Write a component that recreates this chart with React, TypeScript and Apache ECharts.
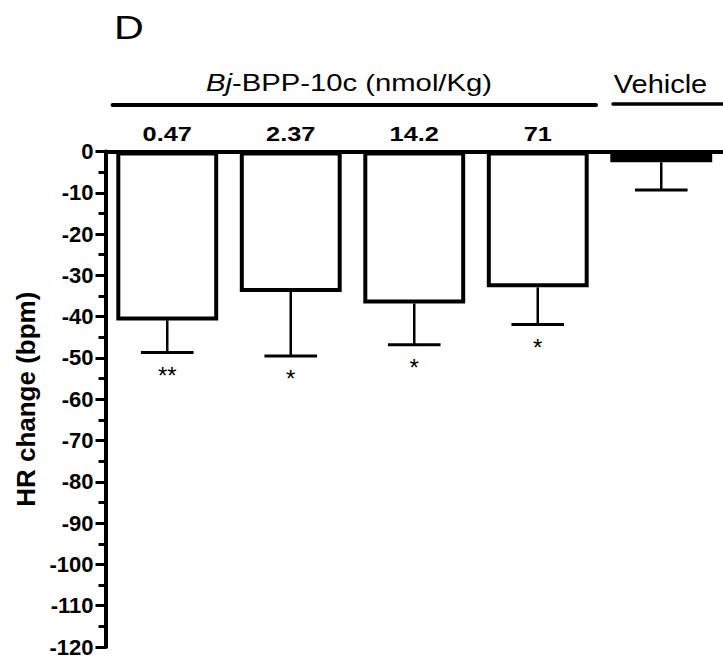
import React, { useEffect, useRef } from 'react';
import * as echarts from 'echarts';

// ---- data ----
const doseCategories = ['0.47', '2.37', '14.2', '71', 'Vehicle'];
const meanChange = [-40.9, -34.0, -36.8, -32.9, -2.6];
const semChange = [7.8, 15.5, 10.0, 9.0, 6.7];
const significance = ['**', '*', '*', '*', ''];
const barFill = ['#ffffff', '#ffffff', '#ffffff', '#ffffff', '#000000'];
const yMin = -120;
const yMax = 0;
const yStep = 10;
const panelLabel = 'D';
const groupLabel = 'Bj-BPP-10c (nmol/Kg)';
const vehicleLabel = 'Vehicle';
const yAxisTitle = 'HR change (bpm)';

const FONT = '"Liberation Sans", Arial, Helvetica, sans-serif';

export default function App() {
  const ref = useRef<HTMLDivElement>(null);

  useEffect(() => {
    if (!ref.current) return;
    const chart = echarts.init(ref.current, undefined, { renderer: 'svg' });

    const option: any = {
      animation: false,
      backgroundColor: '#ffffff',
      grid: { left: 105.5, top: 151.5, width: 624.3, height: 495.5, containLabel: false },
      xAxis: {
        type: 'category',
        data: doseCategories,
        position: 'top',
        axisLine: { show: true, lineStyle: { color: '#000', width: 4 } },
        axisTick: { show: false },
        axisLabel: { show: false },
        splitLine: { show: false },
      },
      yAxis: {
        type: 'value',
        min: yMin,
        max: yMax,
        interval: yStep,
        name: yAxisTitle,
        nameLocation: 'middle',
        nameGap: 66,
        nameTextStyle: { fontSize: 26, fontWeight: 'bold', color: '#000', fontFamily: FONT },
        axisLine: { show: true, lineStyle: { color: '#000', width: 4 } },
        axisTick: { show: true, length: 10, lineStyle: { color: '#000', width: 3 } },
        minorTick: { show: true, splitNumber: 2, length: 7, lineStyle: { color: '#000', width: 3 } },
        splitLine: { show: false },
        axisLabel: { color: '#000', fontWeight: 'bold', fontSize: 22, fontFamily: FONT, margin: 12 },
      },
      series: [
        {
          type: 'bar',
          data: meanChange.map((v, i) => ({ value: v, itemStyle: { color: barFill[i] } })),
          barWidth: '82.5%',
          itemStyle: { borderColor: '#000', borderWidth: 4 },
          z: 2,
        },
        {
          type: 'custom',
          clip: false,
          z: 3,
          encode: { x: 0, y: [1, 2] },
          data: meanChange.map((m, i) => [i, m, m - semChange[i]]),
          renderItem: (params: any, api: any) => {
            const idx = params.dataIndex;
            const i = api.value(0);
            const top = api.coord([i, api.value(1)]);
            const bot = api.coord([i, api.value(2)]);
            const zero = api.coord([i, 0]);
            const capHalf = api.size([1, 0])[0] * 0.213;
            const children: any[] = [
              {
                type: 'line',
                shape: { x1: top[0], y1: top[1], x2: bot[0], y2: bot[1] },
                style: { stroke: '#000', lineWidth: 2.5 },
              },
              {
                type: 'line',
                shape: { x1: bot[0] - capHalf, y1: bot[1], x2: bot[0] + capHalf, y2: bot[1] },
                style: { stroke: '#000', lineWidth: 3 },
              },
            ];
            if (significance[idx]) {
              children.push({
                type: 'text',
                x: bot[0],
                y: bot[1] + 22.7,
                style: {
                  text: significance[idx],
                  font: `24px ${FONT}`,
                  fill: '#000',
                  textAlign: 'center',
                  align: 'center',
                  textVerticalAlign: 'middle',
                  verticalAlign: 'middle',
                },
              });
            }
            if (doseCategories[idx] !== vehicleLabel) {
              children.push({
                type: 'text',
                x: zero[0],
                y: zero[1] - 16.6,
                scaleX: 1.3,
                style: {
                  text: doseCategories[idx],
                  font: `bold 19.5px ${FONT}`,
                  fill: '#000',
                  textAlign: 'center',
                  align: 'center',
                  textVerticalAlign: 'middle',
                  verticalAlign: 'middle',
                },
              });
            }
            return { type: 'group', children };
          },
        },
      ],
      graphic: [
        {
          type: 'text',
          x: 114,
          y: 28,
          scaleX: 1.27,
          style: {
            text: panelLabel,
            font: `32.5px ${FONT}`,
            fill: '#000',
            textAlign: 'left',
            align: 'left',
            textVerticalAlign: 'middle',
            verticalAlign: 'middle',
          },
        },
        {
          type: 'text',
          x: 349,
          y: 83.2,
          scaleX: 1.245,
          style: {
            text: '{i|Bj}{n|-BPP-10c (nmol/Kg)}',
            rich: {
              i: { fontStyle: 'italic', fontSize: 23.5, fontFamily: FONT, fill: '#000' },
              n: { fontSize: 23.5, fontFamily: FONT, fill: '#000' },
            },
            font: `23.5px ${FONT}`,
            fill: '#000',
            textAlign: 'center',
            align: 'center',
            textVerticalAlign: 'middle',
            verticalAlign: 'middle',
          },
        },
        {
          type: 'text',
          x: 660.5,
          y: 84.3,
          scaleX: 1.16,
          style: {
            text: vehicleLabel,
            font: `25px ${FONT}`,
            fill: '#000',
            textAlign: 'center',
            align: 'center',
            textVerticalAlign: 'middle',
            verticalAlign: 'middle',
          },
        },
        {
          type: 'line',
          shape: { x1: 112.6, y1: 105, x2: 596, y2: 105 },
          style: { stroke: '#000', lineWidth: 4, lineCap: 'round' },
        },
        {
          type: 'line',
          shape: { x1: 613, y1: 104, x2: 735, y2: 104 },
          style: { stroke: '#000', lineWidth: 3.5, lineCap: 'round' },
        },
      ],
    };

    chart.setOption(option);
    return () => {
      chart.dispose();
    };
  }, []);

  return (
    <div
      ref={ref}
      style={{ position: 'absolute', left: 0, top: 0, width: 723, height: 661, background: '#fff' }}
    />
  );
}
